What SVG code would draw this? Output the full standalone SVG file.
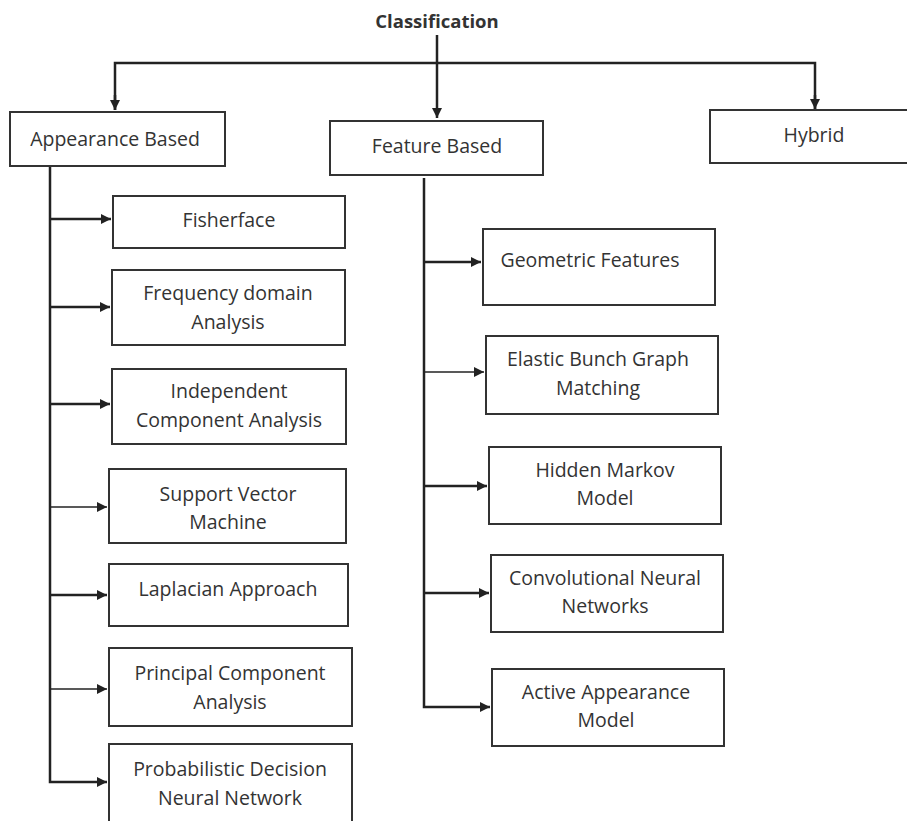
<svg xmlns="http://www.w3.org/2000/svg" width="907" height="821" viewBox="0 0 907 821">
<defs>
<marker id="ah" viewBox="0 0 10 10" refX="10" refY="5" markerWidth="10" markerHeight="10" markerUnits="userSpaceOnUse" orient="auto">
<path d="M0,0 L10,5 L0,10 z" fill="#222"/>
</marker>
<style>
.box{fill:#fff;stroke:#333;stroke-width:2}
.t{font-family:"Open Sans","Liberation Sans",sans-serif;font-size:19.5px;fill:#333;text-anchor:middle}
.c{stroke:#222;stroke-width:2.5;fill:none}
.cs{stroke:#222;stroke-width:1.5;fill:none}
</style>
</defs>
<rect width="907" height="821" fill="#fff"/>
<g id="connectors">
<path class="c" d="M437,35 V118" marker-end="url(#ah)"/>
<path class="c" d="M115,110 V63 H815 V109"/>
<path class="c" d="M115,95 V110" marker-end="url(#ah)"/>
<path class="c" d="M815,95 V109" marker-end="url(#ah)"/>
<path class="c" d="M50,166 V782 H107" marker-end="url(#ah)"/>
<path class="c" d="M50,219 H111" marker-end="url(#ah)"/>
<path class="c" d="M50,307 H110" marker-end="url(#ah)"/>
<path class="c" d="M50,404 H110" marker-end="url(#ah)"/>
<path class="cs" d="M50,507 H107" marker-end="url(#ah)"/>
<path class="c" d="M50,595 H107" marker-end="url(#ah)"/>
<path class="cs" d="M50,689 H107" marker-end="url(#ah)"/>
<path class="c" d="M424,178 V707 H490" marker-end="url(#ah)"/>
<path class="c" d="M424,262 H481" marker-end="url(#ah)"/>
<path class="cs" d="M424,372 H484" marker-end="url(#ah)"/>
<path class="c" d="M424,486 H487" marker-end="url(#ah)"/>
<path class="c" d="M424,593 H489" marker-end="url(#ah)"/>
</g>
<g id="classification"><text class="t" x="437" y="28" style="font-weight:bold;font-size:18.5px">Classification</text></g>
<g id="appearance"><rect class="box" x="10" y="112" width="215" height="54"/><text class="t" x="115" y="146">Appearance Based</text></g>
<g id="feature"><rect class="box" x="330" y="121" width="213" height="54"/><text class="t" x="437" y="153">Feature Based</text></g>
<g id="hybrid"><rect class="box" x="710" y="110" width="200" height="53"/><text class="t" x="814" y="142">Hybrid</text></g>
<g id="fisherface"><rect class="box" x="113" y="196" width="232" height="52"/><text class="t" x="229" y="227">Fisherface</text></g>
<g id="frequency"><rect class="box" x="112" y="270" width="233" height="75"/><text class="t" x="228" y="300">Frequency domain</text><text class="t" x="228" y="329">Analysis</text></g>
<g id="ica"><rect class="box" x="112" y="369" width="234" height="75"/><text class="t" x="229" y="398">Independent</text><text class="t" x="229" y="427">Component Analysis</text></g>
<g id="svm"><rect class="box" x="109" y="469" width="237" height="74"/><text class="t" x="228" y="501">Support Vector</text><text class="t" x="228" y="529">Machine</text></g>
<g id="laplacian"><rect class="box" x="109" y="564" width="239" height="62"/><text class="t" x="228" y="596">Laplacian Approach</text></g>
<g id="pca"><rect class="box" x="109" y="648" width="243" height="78"/><text class="t" x="230" y="680">Principal Component</text><text class="t" x="230" y="709">Analysis</text></g>
<g id="pdnn"><rect class="box" x="109" y="744" width="243" height="80"/><text class="t" x="230" y="776">Probabilistic Decision</text><text class="t" x="230" y="805">Neural Network</text></g>
<g id="geometric"><rect class="box" x="483" y="229" width="232" height="76"/><text class="t" x="590" y="267">Geometric Features</text></g>
<g id="ebgm"><rect class="box" x="486" y="336" width="232" height="78"/><text class="t" x="598" y="366">Elastic Bunch Graph</text><text class="t" x="598" y="395">Matching</text></g>
<g id="hmm"><rect class="box" x="489" y="447" width="232" height="77"/><text class="t" x="605" y="477">Hidden Markov</text><text class="t" x="605" y="505">Model</text></g>
<g id="cnn"><rect class="box" x="491" y="555" width="232" height="77"/><text class="t" x="605" y="585">Convolutional Neural</text><text class="t" x="605" y="613">Networks</text></g>
<g id="aam"><rect class="box" x="492" y="669" width="232" height="77"/><text class="t" x="606" y="699">Active Appearance</text><text class="t" x="606" y="727">Model</text></g>
</svg>
